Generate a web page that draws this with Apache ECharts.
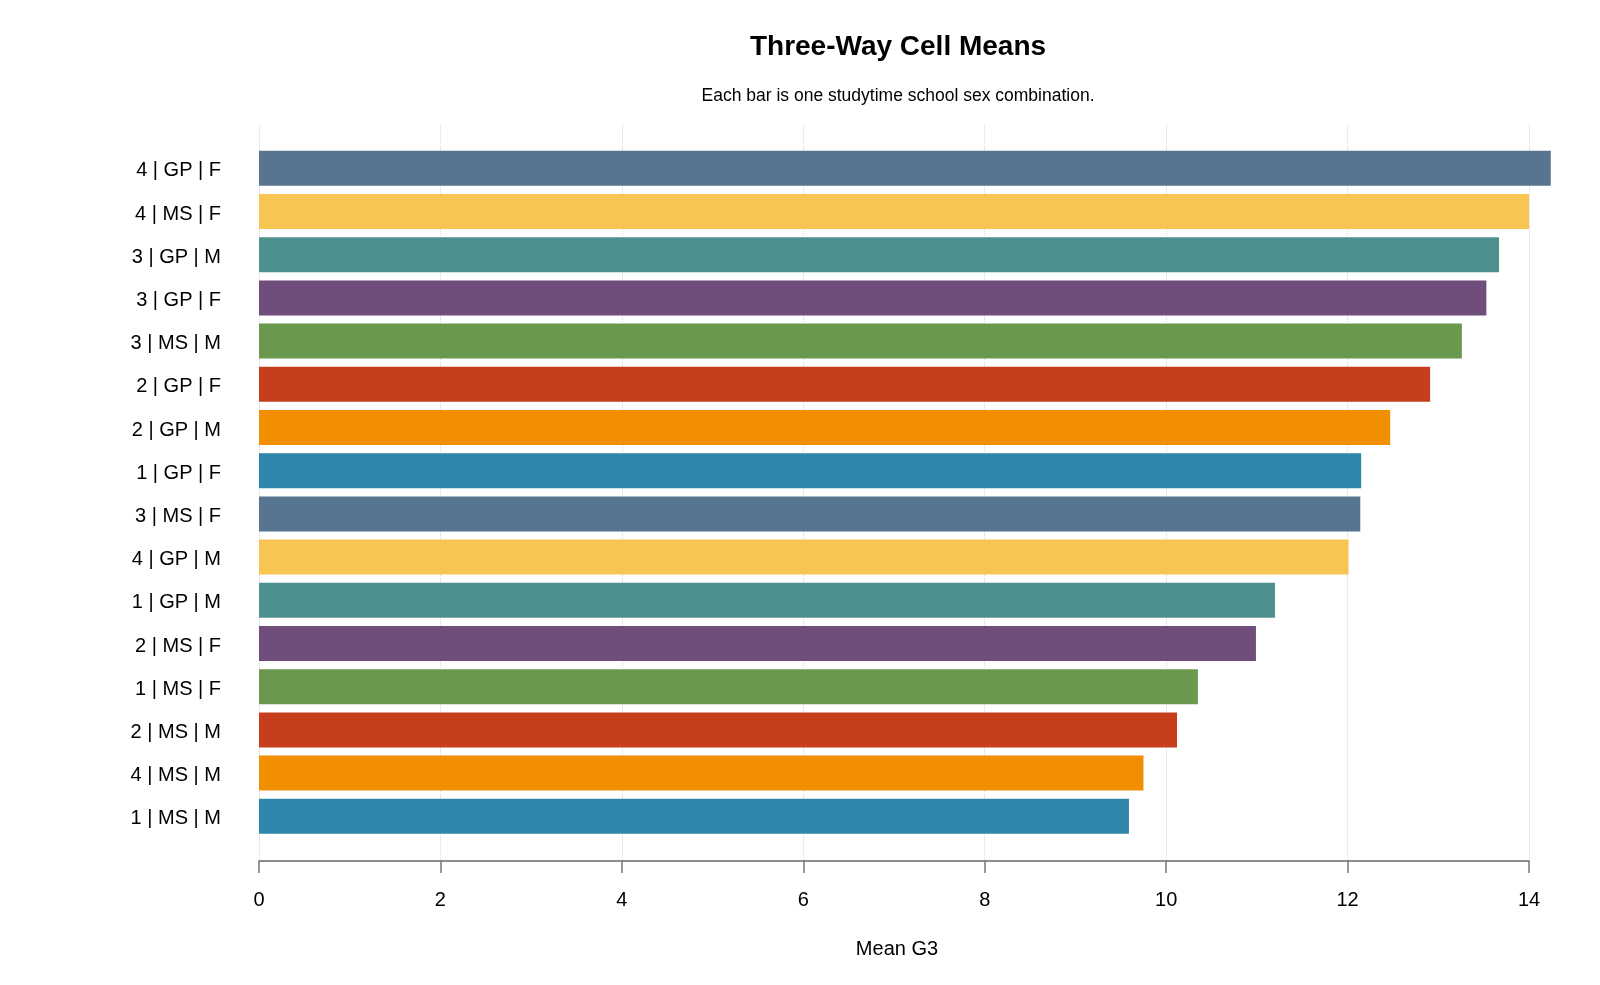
<!DOCTYPE html>
<html>
<head>
<meta charset="utf-8">
<script src="https://cdn.jsdelivr.net/npm/echarts@6/dist/echarts.min.js"></script>
<style>
  html, body { margin: 0; padding: 0; background: #fff; }
  #chart { width: 1600px; height: 985px; }
</style>
</head>
<body>
<div id="chart"></div>
<script>
// cells, listed from the top bar down
const cells = [
  '4 | GP | F', '4 | MS | F', '3 | GP | M', '3 | GP | F',
  '3 | MS | M', '2 | GP | F', '2 | GP | M', '1 | GP | F',
  '3 | MS | F', '4 | GP | M', '1 | GP | M', '2 | MS | F',
  '1 | MS | F', '2 | MS | M', '4 | MS | M', '1 | MS | M'
];
const meanG3 = [
  14.24, 14.00, 13.67, 13.53,
  13.26, 12.91, 12.47, 12.15,
  12.14, 12.01, 11.20, 10.99,
  10.35, 10.12, 9.75, 9.59
];
const barColors = [
  '#577590', '#F8C552', '#4D908E', '#6F4E7C',
  '#6A994E', '#C73E1D', '#F18F01', '#2E86AB',
  '#577590', '#F8C552', '#4D908E', '#6F4E7C',
  '#6A994E', '#C73E1D', '#F18F01', '#2E86AB'
];
const xTicks = [0, 2, 4, 6, 8, 10, 12, 14];

const chart = echarts.init(document.getElementById('chart'));
const font = 'Arial, "Liberation Sans", sans-serif';
const pxPerUnit = 1270 / 14; // axis 0..14 spans 1270px

chart.setOption({
  backgroundColor: '#fff',
  animation: false,
  title: [
    {
      text: 'Three-Way Cell Means',
      left: 893, top: 28, textAlign: 'center',
      textStyle: { fontFamily: font, fontSize: 28, fontWeight: 'bold', color: '#000' }
    },
    {
      text: 'Each bar is one studytime school sex combination.',
      left: 893, top: 82, textAlign: 'center',
      textStyle: { fontFamily: font, fontSize: 17.5, fontWeight: 'normal', color: '#000' }
    }
  ],
  grid: [
    // bars
    { left: 259, top: 146.7, width: 14.3 * pxPerUnit, height: 16 * 43.2 },
    // axis + grid lines
    { left: 259, top: 125, width: 1270, height: 736 }
  ],
  xAxis: [
    {
      gridIndex: 0, type: 'value', min: 0, max: 14.3, show: false
    },
    {
      gridIndex: 1, type: 'value', min: 0, max: 14, interval: 2,
      axisLine: { show: true, lineStyle: { color: '#666', width: 1.5 } },
      axisTick: { show: true, length: 12, lineStyle: { color: '#777', width: 1.5 } },
      axisLabel: {
        margin: 29, fontFamily: font, fontSize: 20, color: '#000',
        customValues: xTicks
      },
      splitLine: { show: true, lineStyle: { color: '#d8d8d8', type: 'dotted', width: 1 } },
      name: 'Mean G3', nameLocation: 'middle', nameGap: 78,
      nameTextStyle: { fontFamily: font, fontSize: 20, color: '#000', padding: [0, 0, 0, 6] }
    }
  ],
  yAxis: [
    {
      gridIndex: 0, type: 'category', data: cells, inverse: true,
      axisLine: { show: false }, axisTick: { show: false },
      axisLabel: {
        margin: 38, color: '#000',
        formatter: (v) => '{c|' + v + '}',
        rich: { c: { fontFamily: font, fontSize: 20, color: '#000', padding: [5, 0, 0, 0] } }
      }
    },
    {
      gridIndex: 1, type: 'value', min: 0, max: 1, show: false
    }
  ],
  series: [
    {
      type: 'bar',
      xAxisIndex: 0, yAxisIndex: 0,
      data: meanG3.map((v, i) => ({ value: v, itemStyle: { color: barColors[i] } })),
      barCategoryGap: '19%',
      z: 3
    }
  ]
});
</script>
</body>
</html>
